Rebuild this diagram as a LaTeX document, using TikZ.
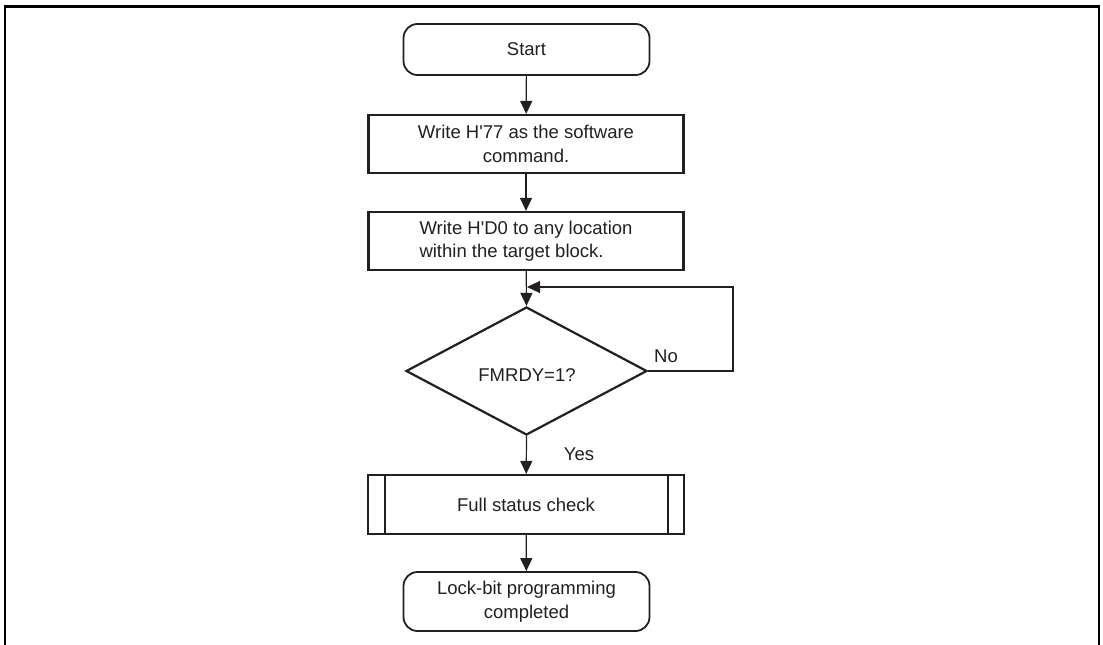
\documentclass[tikz,border=0pt]{standalone}
\usepackage{fontspec}
\setmainfont{Liberation Sans}
\usetikzlibrary{shapes.geometric,arrows.meta}
\definecolor{ink}{RGB}{35,31,32}
\begin{document}
\begin{tikzpicture}[x=1pt,y=-1pt,
  every node/.style={font=\fontsize{18.5}{23.5}\selectfont, text=ink},
  box/.style={draw=ink, line width=2.2pt, minimum width=315pt, minimum height=58pt, inner sep=0pt, align=center},
  terminal/.style={draw=ink, line width=1.8pt, rounded corners=14pt, minimum width=246pt, inner sep=0pt, align=center},
  decision/.style={draw=ink, line width=2.2pt, diamond, minimum width=241pt, minimum height=128pt, inner sep=0pt},
  flow/.style={draw=ink, line width=1.2pt, -{Triangle[length=13pt,width=12pt]}},
  label/.style={inner sep=0pt}]
\useasboundingbox (0,0) rectangle (1103,645);
% open frame
\draw[black, line width=2.6pt] (5,645) -- (5,6.5) -- (1099,6.5) -- (1099,645);

% steps
\node[terminal, minimum height=51pt] (start) at (526.5,49.5) {Start};
\node[box] (cmd) at (526,144) {Write H\textquotesingle 77 as the software\\command.};
\node[box, align=left] (write) at (526,241) {Write H\textquotesingle D0 to any location\\within the target block.};
\node[decision] (ready) at (526.5,371) {};
\node[label] (readytxt) at (527,375) {FMRDY=1?};
\node[box, minimum width=316pt, minimum height=59pt] (check) at (526,504.5) {Full status check};
\draw[ink, line width=2.2pt] ([xshift=18pt]check.north west) -- ([xshift=18pt]check.south west);
\draw[ink, line width=2.2pt] ([xshift=-17pt]check.north east) -- ([xshift=-17pt]check.south east);
\node[terminal, minimum height=59pt] (done) at (526.5,601.5) {Lock-bit programming\\completed};

% connectors
\draw[flow] (start) -- (cmd);
\draw[flow] (cmd) -- (write);
\draw[flow] (write) -- (ready.north);
\draw[flow] (ready.south) -- (check);
\draw[flow] (check) -- (done);

% retry loop
\coordinate (loopr) at (733,287);
\coordinate (merge) at (527,287);
\draw[flow] (ready.east) -- (loopr |- ready.east) -- (loopr) -- (merge);

\node[label] (no) at (666,356) {No};
\node[label] (yes) at (579,454) {Yes};
\end{tikzpicture}
\end{document}
